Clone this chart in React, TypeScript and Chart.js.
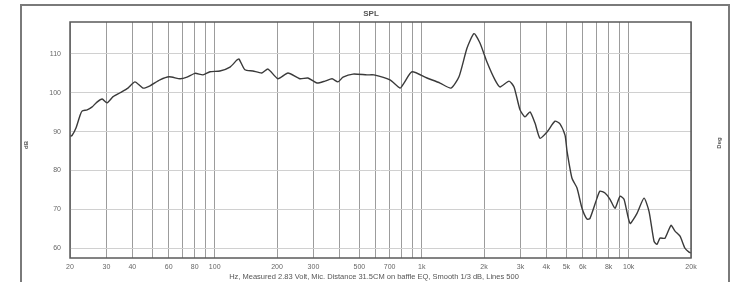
import { useEffect, useRef } from "react";
import { Chart, registerables } from "chart.js";
Chart.register(...registerables);

const freqHz = [20, 20.45, 21.4, 22.4, 22.9, 24.2, 25.5, 27.0, 28.6, 30.2, 32.3, 34.9, 38.1, 41.2, 45.1, 48.7, 54.4, 60.2, 68, 73.5, 80.3, 87.8, 94.9, 106, 118.6, 128, 131, 140, 153, 169, 181, 202, 226, 258, 282, 312, 341, 369, 394, 417, 466, 544, 588, 703, 786, 821, 898, 1061, 1226, 1385, 1514, 1656, 1789, 1912, 2067, 2260, 2390, 2642, 2793, 2986, 3156, 3336, 3527, 3728, 4031, 4406, 4657, 4925, 5036, 5323, 5628, 5949, 6290, 6503, 7030, 7267, 7684, 8125, 8589, 9080, 9494, 10150, 10970, 11858, 12537, 13256, 13698, 14164, 14977, 16012, 16740, 17700, 18708, 19558, 20000];
const splDb = [88.8, 89, 91, 94.3, 95.3, 95.6, 96.3, 97.6, 98.4, 97.4, 99, 100, 101.2, 102.8, 101.2, 101.8, 103.3, 104.1, 103.6, 104, 105, 104.6, 105.4, 105.6, 106.6, 108.4, 108.7, 105.9, 105.6, 105.1, 106.1, 103.6, 105.1, 103.6, 103.8, 102.5, 103, 103.6, 102.8, 104, 104.8, 104.6, 104.6, 103.3, 101.2, 102.5, 105.4, 103.8, 102.5, 101.2, 104.1, 111.5, 115.2, 112.8, 107.9, 103.3, 101.5, 103, 101.5, 95.6, 93.8, 95.1, 92.2, 88.3, 89.9, 92.7, 92, 89.1, 85, 78, 75.5, 70.3, 67.5, 67.7, 72.9, 74.7, 74.2, 72.6, 70.3, 73.4, 72.6, 66.4, 69, 72.9, 69.5, 61.8, 61, 62.6, 62.6, 65.9, 64.4, 63.1, 60, 59, 58.8];

const yTicks = [60, 70, 80, 90, 100, 110];
const xGridHz = [20, 30, 40, 50, 60, 70, 80, 90, 100, 200, 300, 400, 500, 600, 700, 800, 900, 1000, 2000, 3000, 4000, 5000, 6000, 7000, 8000, 9000, 10000, 20000];
const xLabelHz = [20, 30, 40, 60, 80, 100, 200, 300, 500, 700, 1000, 2000, 3000, 4000, 5000, 6000, 8000, 10000, 20000];
const xLabelText = ["20", "30", "40", "60", "80", "100", "200", "300", "500", "700", "1k", "2k", "3k", "4k", "5k", "6k", "8k", "10k", "20k"];

const titleText = "SPL";
const leftAxisText = "dB";
const rightAxisText = "Deg";
const captionText = "Hz, Measured 2.83 Volt, Mic. Distance 31.5CM on baffle EQ, Smooth 1/3 dB, Lines 500";

const decorPlugin = {
  id: "decor",
  beforeDraw(chart: any) {
    const ctx = chart.ctx;
    ctx.save();
    ctx.fillStyle = "#ffffff";
    ctx.fillRect(0, 0, chart.width, chart.height);
    ctx.restore();
  },
  afterDraw(chart: any) {
    const ctx = chart.ctx;
    const a = chart.chartArea;
    ctx.save();
    ctx.strokeStyle = "#5a5a5a";
    ctx.lineWidth = 1.5;
    ctx.strokeRect(a.left, a.top, a.right - a.left, a.bottom - a.top);
    ctx.strokeStyle = "#7a7a7a";
    ctx.lineWidth = 2;
    ctx.beginPath();
    ctx.moveTo(21, chart.height);
    ctx.lineTo(21, 5);
    ctx.lineTo(729, 5);
    ctx.lineTo(729, chart.height);
    ctx.stroke();
    ctx.fillStyle = "#555";
    ctx.font = "bold 8px Arial, 'Liberation Sans', sans-serif";
    ctx.textAlign = "center";
    ctx.textBaseline = "middle";
    ctx.fillText(titleText, 371, 14);
    ctx.font = "7.5px Arial, 'Liberation Sans', sans-serif";
    ctx.fillStyle = "#555";
    ctx.fillText(captionText, 374, 277);
    ctx.font = "bold 6px Arial, 'Liberation Sans', sans-serif";
    ctx.save();
    ctx.translate(26, 145);
    ctx.rotate(-Math.PI / 2);
    ctx.fillText(leftAxisText, 0, 0);
    ctx.restore();
    ctx.save();
    ctx.translate(719, 143);
    ctx.rotate(-Math.PI / 2);
    ctx.fillText(rightAxisText, 0, 0);
    ctx.restore();
    ctx.restore();
  },
};

export default function App() {
  const ref = useRef<HTMLCanvasElement | null>(null);
  useEffect(() => {
    document.body.style.margin = "0";
    if (!ref.current) return;
    const chart = new Chart(ref.current, {
      type: "line",
      data: {
        datasets: [
          {
            data: freqHz.map((f, i) => ({ x: f, y: splDb[i] })),
            borderColor: "#3a3a3a",
            borderWidth: 1.4,
            pointRadius: 0,
            tension: 0.2,
            fill: false,
          },
        ],
      },
      options: {
        responsive: false,
        animation: false,
        layout: { padding: { top: 22, right: 46, left: 0, bottom: 0 } },
        plugins: { legend: { display: false }, tooltip: { enabled: false }, title: { display: false } },
        scales: {
          x: {
            type: "logarithmic",
            min: 20,
            max: 20000,
            afterBuildTicks: (s: any) => {
              s.ticks = xGridHz.map((v) => ({ value: v }));
            },
            afterFit: (s: any) => {
              s.height = 24;
            },
            ticks: {
              autoSkip: false,
              maxRotation: 0,
              minRotation: 0,
              padding: 5,
              color: "#666",
              font: { size: 7, family: "Arial, 'Liberation Sans', sans-serif" },
              callback: function (this: any, _v: any, i: number) {
                const val = xGridHz[i];
                const k = xLabelHz.indexOf(val);
                return k >= 0 ? xLabelText[k] : "";
              },
            },
            grid: { color: "#9c9c9c", drawTicks: false, lineWidth: 1 },
            border: { display: false },
          },
          y: {
            type: "linear",
            min: 57.5,
            max: 118.2,
            afterBuildTicks: (s: any) => {
              s.ticks = yTicks.map((v) => ({ value: v }));
            },
            afterFit: (s: any) => {
              s.width = 70;
            },
            ticks: {
              padding: 9,
              color: "#666",
              font: { size: 7, family: "Arial, 'Liberation Sans', sans-serif" },
            },
            grid: { color: "#d0d0d0", drawTicks: false, lineWidth: 1 },
            border: { display: false },
          },
        },
      },
      plugins: [decorPlugin],
    } as any);
    return () => chart.destroy();
  }, []);
  return <canvas ref={ref} width={737} height={282} style={{ display: "block" }} />;
}
